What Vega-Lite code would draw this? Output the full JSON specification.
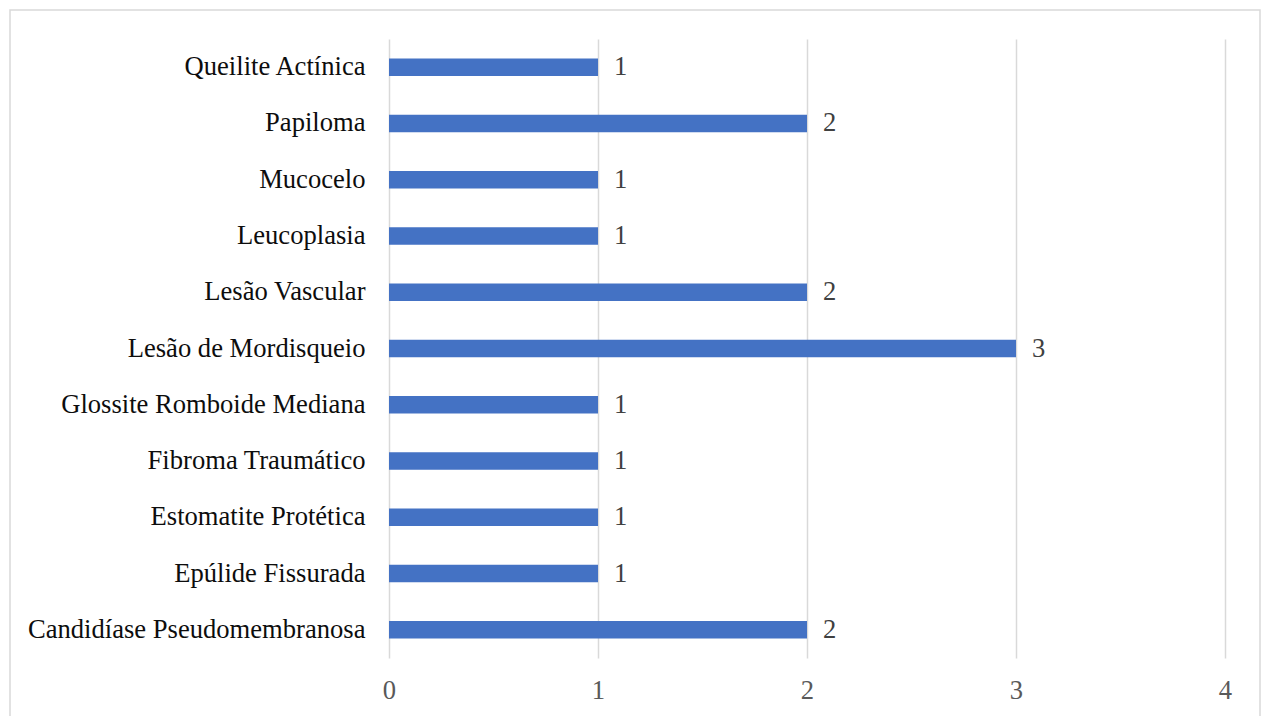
{
  "$schema": "https://vega.github.io/schema/vega-lite/v6.json",
  "width": 1250,
  "height": 720,
  "autosize": {"type": "none"},
  "padding": {"left": 10, "top": 10, "right": 2, "bottom": 0},
  "background": "white",
  "config": {
    "view": {"stroke": "#d9d9d9", "strokeWidth": 1.5},
    "font": "Liberation Serif"
  },
  "data": {
    "values": [
      {"lesao": "Queilite Actínica", "casos": 1},
      {"lesao": "Papiloma", "casos": 2},
      {"lesao": "Mucocelo", "casos": 1},
      {"lesao": "Leucoplasia", "casos": 1},
      {"lesao": "Lesão Vascular", "casos": 2},
      {"lesao": "Lesão de Mordisqueio", "casos": 3},
      {"lesao": "Glossite Romboide Mediana", "casos": 1},
      {"lesao": "Fibroma Traumático", "casos": 1},
      {"lesao": "Estomatite Protética", "casos": 1},
      {"lesao": "Epúlide Fissurada", "casos": 1},
      {"lesao": "Candidíase Pseudomembranosa", "casos": 2}
    ]
  },
  "encoding": {
    "y": {
      "field": "lesao",
      "type": "nominal",
      "sort": null,
      "scale": {"range": [29, 648], "paddingInner": 0.689, "paddingOuter": 0.3445},
      "axis": {
        "title": null,
        "orient": "left",
        "offset": -379,
        "domain": false,
        "ticks": false,
        "tickSize": 0,
        "labelPadding": 24,
        "labelFontSize": 26.6,
        "labelFont": "Liberation Serif",
        "labelColor": "#0d0d0d",
        "labelLimit": 0
      }
    },
    "x": {
      "field": "casos",
      "type": "quantitative",
      "scale": {"domain": [0, 4], "range": [379, 1215], "nice": false},
      "axis": {
        "title": null,
        "orient": "top",
        "offset": -700,
        "values": [0, 1, 2, 3, 4],
        "format": "d",
        "grid": true,
        "gridColor": "#d9d9d9",
        "gridWidth": 1.5,
        "domain": false,
        "ticks": false,
        "tickSize": 0,
        "labelFlush": false,
        "labelBaseline": "middle",
        "labelPadding": 20,
        "labelFontSize": 26.6,
        "labelFont": "Liberation Serif",
        "labelColor": "#595959"
      }
    }
  },
  "layer": [
    {"mark": {"type": "bar", "color": "#4472C4"}},
    {
      "mark": {
        "type": "text",
        "align": "left",
        "baseline": "middle",
        "dx": 16,
        "fontSize": 26.6,
        "font": "Liberation Serif",
        "color": "#404040"
      },
      "encoding": {"text": {"field": "casos", "type": "quantitative"}}
    }
  ]
}
